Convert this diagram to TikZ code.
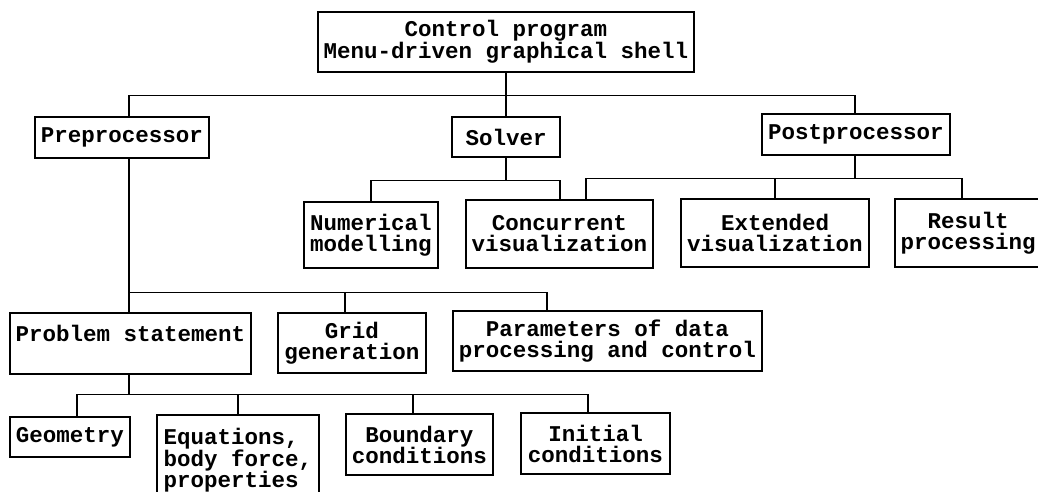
\documentclass[tikz,border=0pt]{standalone}
\usepackage{fontspec}
\setmonofont{Liberation Mono}
\usepackage{tikz}

\tikzset{
    box/.style={draw, line width=1.2pt, inner sep=0pt, align=center,
        font=\ttfamily\bfseries\fontsize{22.5}{21}\selectfont},
    link/.style={line width=1.2pt}
}

\begin{document}
\begin{tikzpicture}[x=1pt, y=-1pt]
    \clip (0,0) rectangle (1038,491);
    \node[box, minimum width=376, minimum height=60] (top) at (506,42) {Control program\\Menu-driven graphical shell};
    \node[box, minimum width=174, minimum height=41] (pre) at (122,137.5) {Preprocessor};
    \node[box, minimum width=108, minimum height=40] (solver) at (506,137) {Solver};
    \node[box, minimum width=188, minimum height=41] (post) at (856,134.5) {Postprocessor};
    \node[box, minimum width=134, minimum height=66] (num) at (371,235) {Numerical\\modelling};
    \node[box, minimum width=187, minimum height=68] (conc) at (559.5,234) {Concurrent\\visualization};
    \node[box, minimum width=188, minimum height=68] (ext) at (775,233) {Extended\\visualization};
    \node[box, minimum width=146, minimum height=68] (res) at (968,233) {Result\\processing};
    \node[box, minimum width=241, minimum height=61] (prob) at (130.5,343.5) {Problem statement\\\mbox{}};
    \node[box, minimum width=148, minimum height=60] (grid) at (352,343) {Grid\\generation};
    \node[box, minimum width=309, minimum height=60] (par) at (607.5,341) {Parameters of data\\processing and control};
    \node[box, minimum width=120, minimum height=40] (geo) at (70,437) {Geometry};
    \node[box, align=left, minimum width=162, minimum height=90] (eq) at (238,460) {Equations,\\body force,\\properties};
    \node[box, minimum width=147, minimum height=61] (bnd) at (419.5,444.5) {Boundary\\conditions};
    \node[box, minimum width=149, minimum height=61] (ini) at (595.5,443.5) {Initial\\conditions};

    \draw[link] (top.south) -- ++(0,23) coordinate (j0);
    \draw[link] (j0) -| ([xshift=7]pre.north);
    \draw[link] (j0) -- (solver.north);
    \draw[link] (j0) -| ([xshift=-1]post.north);

    \draw[link] (solver.south) -- ++(0,23) coordinate (j1);
    \draw[link] (j1) -| (num.north);
    \draw[link] (j1) -| ([xshift=0.5]conc.north);

    \draw[link] ([xshift=-1]post.south) -- ++(0,23) coordinate (j2);
    \draw[link] (j2) -| ([xshift=26.5]conc.north);
    \draw[link] (j2) -| (ext.north);
    \draw[link] (j2) -| ([xshift=-6]res.north);

    \draw[link] ([xshift=7]pre.south) -- ([xshift=-1.5]prob.north);
    \path ([xshift=-1.5]prob.north) ++(0,-20) coordinate (j3);
    \draw[link] (j3) -| ([xshift=-7]grid.north);
    \draw[link] (j3) -| ([xshift=-60.5]par.north);

    \draw[link] ([xshift=-1.5]prob.south) -- ++(0,20) coordinate (j4);
    \draw[link] (j4) -| ([xshift=7]geo.north);
    \draw[link] (j4) -| (eq.north);
    \draw[link] (j4) -| ([xshift=-6.5]bnd.north);
    \draw[link] (j4) -| ([xshift=-7.5]ini.north);
\end{tikzpicture}
\end{document}
